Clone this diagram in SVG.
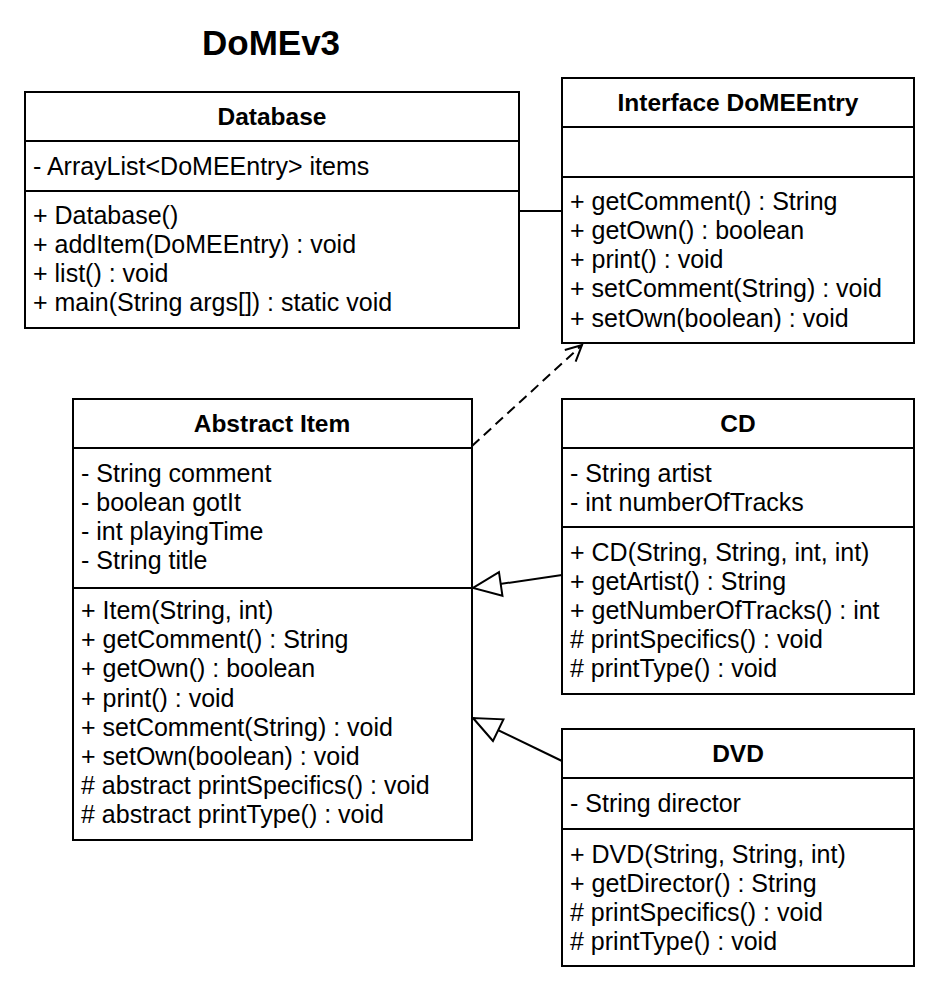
<svg xmlns="http://www.w3.org/2000/svg" width="937" height="989" viewBox="0 0 937 989">
<style>
text{font-family:"Liberation Sans",Arial,sans-serif;font-size:25px;fill:#000}
.h{font-weight:bold;text-anchor:middle;font-size:24.5px}
.t{font-weight:bold;font-size:35px}
.box{fill:#fff;stroke:#000;stroke-width:2}
.ln{stroke:#000;stroke-width:2;fill:none}
</style>
<defs>
<marker id="open" markerWidth="20" markerHeight="20" refX="18" refY="10" orient="auto" markerUnits="userSpaceOnUse">
<path d="M2,2 L18,10 L2,18" fill="none" stroke="#000" stroke-width="2"/>
</marker>
<marker id="tri" markerWidth="32" markerHeight="32" refX="30" refY="14" orient="auto" markerUnits="userSpaceOnUse">
<path d="M2,2 L30,14 L2,26 Z" fill="#fff" stroke="#000" stroke-width="2"/>
</marker>
</defs>
<text class="t" x="202" y="55">DoMEv3</text>
<g id="connectors">
<line class="ln" x1="519" y1="211" x2="562" y2="211"/>
<line class="ln" x1="472" y1="446" x2="582" y2="345" stroke-dasharray="10,6" marker-end="url(#open)"/>
<line class="ln" x1="562" y1="575" x2="473" y2="588" marker-end="url(#tri)"/>
<line class="ln" x1="562" y1="761" x2="473" y2="718" marker-end="url(#tri)"/>
</g>
<g id="database">
<rect class="box" x="25" y="92" width="494" height="236"/>
<line class="ln" x1="25" y1="141" x2="519" y2="141"/>
<line class="ln" x1="25" y1="191" x2="519" y2="191"/>
<text class="h" x="272" y="125">Database</text>
<text x="33" y="175">- ArrayList&lt;DoMEEntry&gt; items</text>
<text x="33" y="224">+ Database()</text>
<text x="33" y="253">+ addItem(DoMEEntry) : void</text>
<text x="33" y="282">+ list() : void</text>
<text x="33" y="311">+ main(String args[]) : static void</text>
</g>
<g id="interface">
<rect class="box" x="562" y="78" width="352" height="265"/>
<line class="ln" x1="562" y1="127" x2="914" y2="127"/>
<line class="ln" x1="562" y1="177" x2="914" y2="177"/>
<text class="h" x="738" y="111">Interface DoMEEntry</text>
<text x="570" y="210">+ getComment() : String</text>
<text x="570" y="239">+ getOwn() : boolean</text>
<text x="570" y="268">+ print() : void</text>
<text x="570" y="297">+ setComment(String) : void</text>
<text x="570" y="327">+ setOwn(boolean) : void</text>
</g>
<g id="item">
<rect class="box" x="73" y="399" width="399" height="441"/>
<line class="ln" x1="73" y1="448" x2="472" y2="448"/>
<line class="ln" x1="73" y1="588" x2="472" y2="588"/>
<text class="h" x="272" y="432">Abstract Item</text>
<text x="81" y="482">- String comment</text>
<text x="81" y="511">- boolean gotIt</text>
<text x="81" y="540">- int playingTime</text>
<text x="81" y="569">- String title</text>
<text x="81" y="619">+ Item(String, int)</text>
<text x="81" y="648">+ getComment() : String</text>
<text x="81" y="677">+ getOwn() : boolean</text>
<text x="81" y="707">+ print() : void</text>
<text x="81" y="736">+ setComment(String) : void</text>
<text x="81" y="765">+ setOwn(boolean) : void</text>
<text x="81" y="794"># abstract printSpecifics() : void</text>
<text x="81" y="823"># abstract printType() : void</text>
</g>
<g id="cd">
<rect class="box" x="562" y="399" width="352" height="295"/>
<line class="ln" x1="562" y1="448" x2="914" y2="448"/>
<line class="ln" x1="562" y1="527" x2="914" y2="527"/>
<text class="h" x="738" y="432">CD</text>
<text x="570" y="482">- String artist</text>
<text x="570" y="511">- int numberOfTracks</text>
<text x="570" y="561">+ CD(String, String, int, int)</text>
<text x="570" y="590">+ getArtist() : String</text>
<text x="570" y="619">+ getNumberOfTracks() : int</text>
<text x="570" y="648"># printSpecifics() : void</text>
<text x="570" y="677"># printType() : void</text>
</g>
<g id="dvd">
<rect class="box" x="562" y="729" width="352" height="237"/>
<line class="ln" x1="562" y1="778" x2="914" y2="778"/>
<line class="ln" x1="562" y1="829" x2="914" y2="829"/>
<text class="h" x="738" y="762">DVD</text>
<text x="570" y="812">- String director</text>
<text x="570" y="863">+ DVD(String, String, int)</text>
<text x="570" y="892">+ getDirector() : String</text>
<text x="570" y="921"># printSpecifics() : void</text>
<text x="570" y="950"># printType() : void</text>
</g>
</svg>
